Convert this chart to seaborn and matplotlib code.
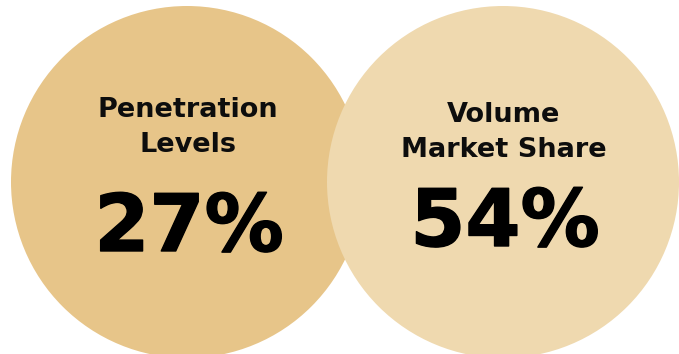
import matplotlib
matplotlib.use("Agg")
import matplotlib.pyplot as plt
import matplotlib.patheffects as pe
import pandas as pd
import seaborn as sns

# Metrics shown in the two overlapping circles
labels = ["Penetration\nLevels", "Volume\nMarket Share"]
values = [27, 54]
colors = ["#E7C589", "#EFD9AF"]

sns.set_theme(style="white")
plt.rcParams["font.family"] = ["DejaVu Sans"]

W, H, DPI = 679, 354, 100
fig = plt.figure(figsize=(W / DPI, H / DPI), dpi=DPI)
ax = fig.add_axes([0, 0, 1, 1])

df = pd.DataFrame({"label": labels, "value": values})
# layout in pixel space
df["cx"] = [187, 503]
df["cy"] = [182, 182]
radius_px = 176
diam_pt = 2 * radius_px * 72 / DPI

sns.scatterplot(data=df, x="cx", y="cy", hue="label", palette=colors,
                s=diam_pt ** 2, linewidth=0, legend=False, ax=ax, zorder=1)

ax.set_xlim(0, W)
ax.set_ylim(H, 0)
ax.set_axis_off()

title_base = [117, 122]   # baseline of the first title line
line_gap = 35
value_base = [251, 246]
heavy = [pe.withStroke(linewidth=1.0, foreground="#000000")]
for i, row in df.iterrows():
    for j, line in enumerate(row["label"].split("\n")):
        ax.text(row["cx"] + 1, title_base[i] + j * line_gap, line,
                ha="center", va="baseline", fontsize=19.5,
                fontweight="bold", color="#0d0d0d", zorder=3)
    ax.text(row["cx"] + 2, value_base[i], f"{row['value']}%", ha="center",
            va="baseline", fontsize=57, fontweight="heavy", color="#000000",
            path_effects=heavy, zorder=3)

fig.savefig("out.png", dpi=DPI)
